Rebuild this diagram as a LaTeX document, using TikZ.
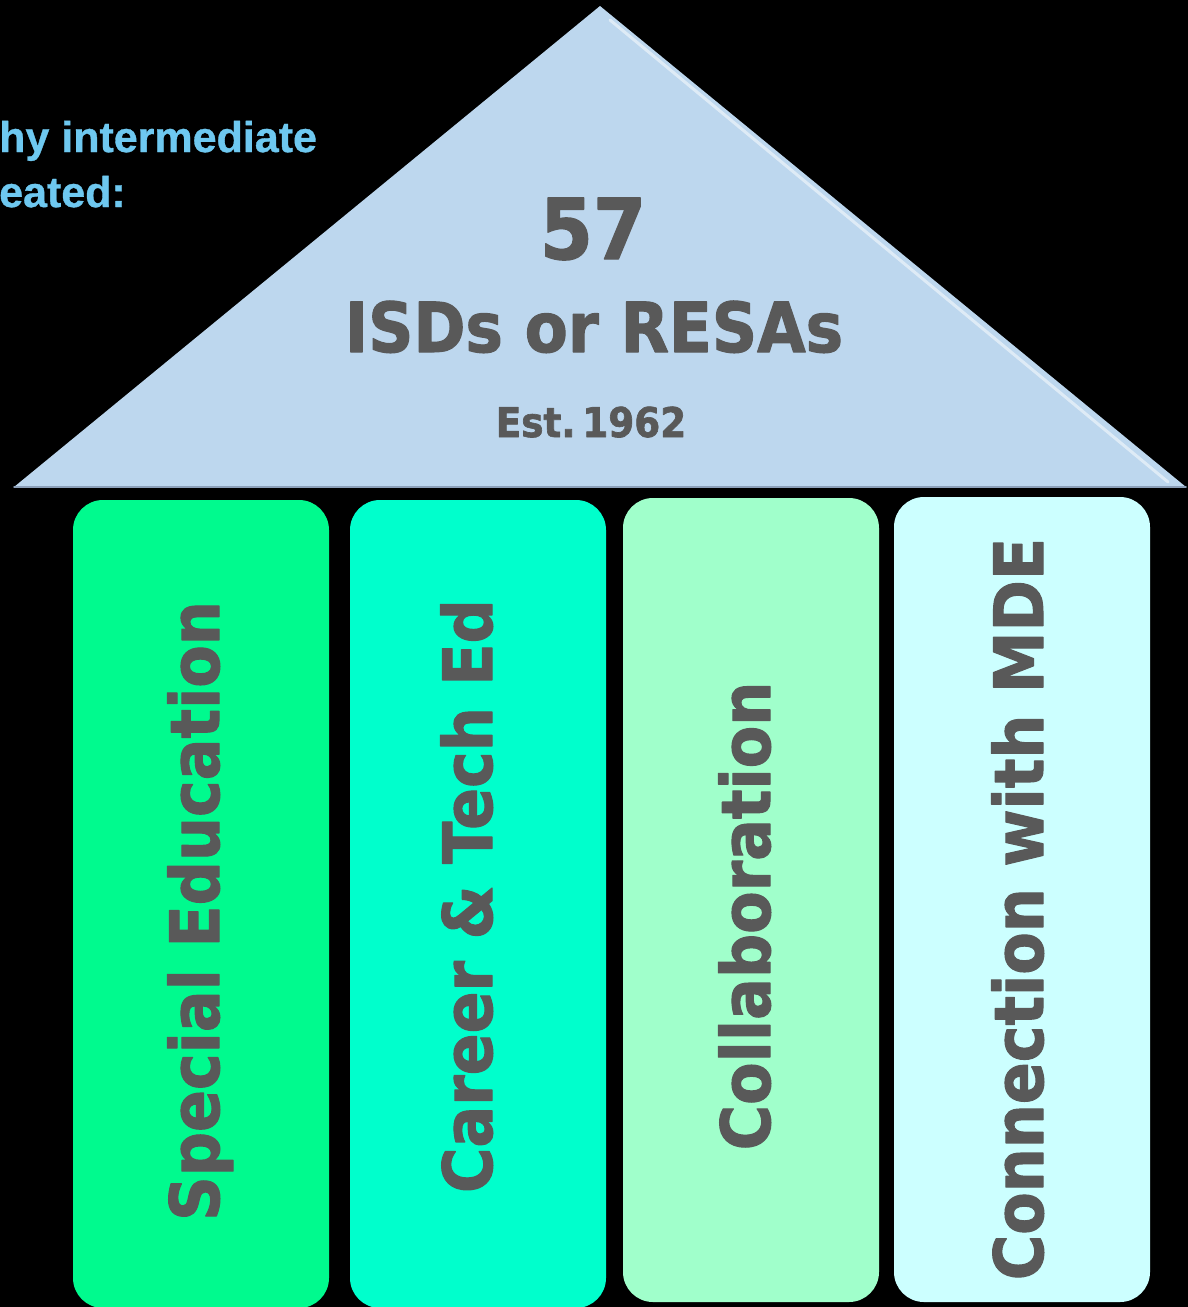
\documentclass[tikz,border=0pt]{standalone}
\usepackage{fontspec}
\usepackage{tikz}
\newfontfamily\heavyfont{DejaVu Sans Bold}[FakeStretch=0.91,FakeBold=1.6]
\newfontfamily\headfont{Liberation Sans Bold}[FakeBold=0.8]
\definecolor{roofblue}{RGB}{189,215,238}
\definecolor{roofedge}{RGB}{140,160,185}
\definecolor{darkgray}{RGB}{89,89,89}
\definecolor{skyblue}{RGB}{110,200,240}
\definecolor{springA}{RGB}{0,250,142}
\definecolor{aquaB}{RGB}{0,255,204}
\definecolor{mintC}{RGB}{160,255,203}
\definecolor{iceD}{RGB}{204,255,255}
\tikzset{
    pillar/.style = {rectangle, rounded corners=30pt, minimum width=256pt, inner sep=0pt},
    pillartext/.style = {rotate=90, anchor=base, text=darkgray, inner sep=0pt, font=\heavyfont\fontsize{68}{80}\selectfont},
    rooftext/.style = {anchor=base, text=darkgray, inner sep=0pt},
    headtext/.style = {anchor=base west, text=skyblue, inner sep=0pt, font=\headfont\fontsize{43}{55}\selectfont}
}

\begin{document}
\begin{tikzpicture}[line cap=round,line join=round,x=1pt,y=-1pt]
\useasboundingbox (0,0) rectangle (1188,1307);
\fill[black] (0,0) rectangle (1188,1307);

\node[headtext] (why) at (-1,152) {hy intermediate};
\node[headtext] (created) at (-1,207) {eated:};

\coordinate (roofL) at (14,487);
\coordinate (roofT) at (600,6);
\coordinate (roofR) at (1186,487);
\fill[roofblue] (roofL) -- (roofT) -- (roofR) -- cycle;
\draw[white, opacity=0.5, line width=3pt] (610,20) -- (1168,482);
\draw[roofedge, line width=1.5pt] (roofL) -- (roofR);

\node[rooftext, font=\heavyfont\fontsize{84}{90}\selectfont] (count) at (593,259) {57};
\node[rooftext, font=\heavyfont\fontsize{69}{80}\selectfont] (isds) at (594,352) {ISDs or RESAs};
\node[rooftext, font=\heavyfont\fontsize{41}{50}\selectfont] (est) at (591,437) {Est.\,1962};

\node[pillar, fill=springA, minimum height=808pt] (p1) at (201,904) {};
\node[pillar, fill=aquaB, minimum height=808pt] (p2) at (478,904) {};
\node[pillar, fill=mintC, minimum height=804pt] (p3) at (751,900) {};
\node[pillar, fill=iceD, minimum height=805pt] (p4) at (1022,899.5) {};

\node[pillartext] (t1) at (219,911) {Special Education};
\node[pillartext] (t2) at (492,896) {Career \& Tech Ed};
\node[pillartext] (t3) at (770,916) {Collaboration};
\node[pillartext] (t4) at (1043,909) {Connection with MDE};
\end{tikzpicture}
\end{document}
